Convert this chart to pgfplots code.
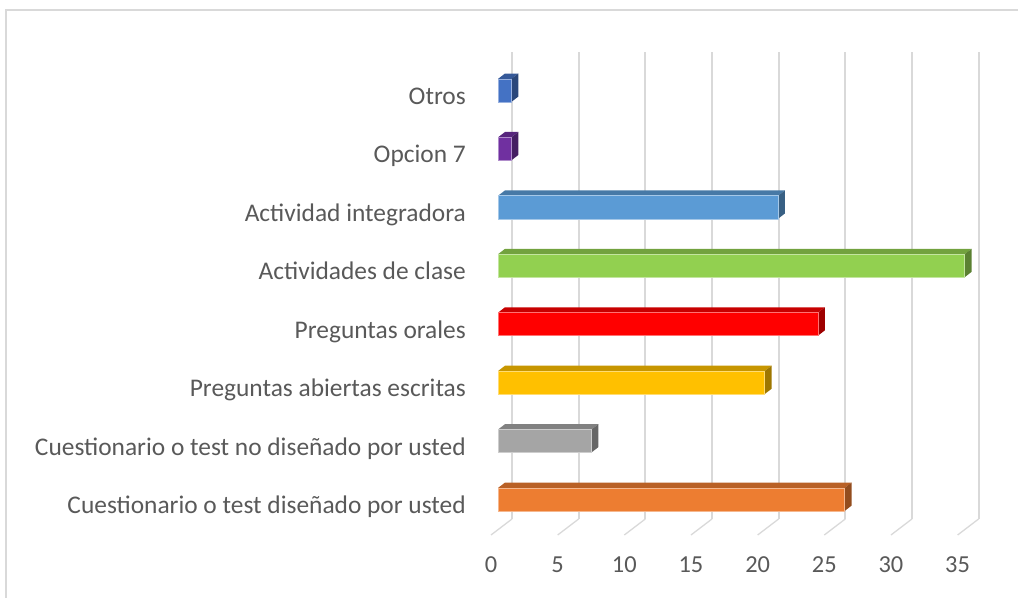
\documentclass[border=0pt]{standalone}
\usepackage{fontspec}
\setmainfont{Carlito}
\usepackage{pgfplots}
\pgfplotsset{compat=1.18}
\definecolor{txt}{HTML}{595959}
\definecolor{grd}{HTML}{D9D9D9}
\definecolor{cOr}{HTML}{ED7D31}
\definecolor{cGy}{HTML}{A5A5A5}
\definecolor{cGd}{HTML}{FFC000}
\definecolor{cRd}{HTML}{FF0000}
\definecolor{cGn}{HTML}{92D050}
\definecolor{cLb}{HTML}{5B9BD5}
\definecolor{cPu}{HTML}{7030A0}
\definecolor{cBl}{HTML}{4472C4}
% #1 category position, #2 value, #3 colour
\newcommand\tdbar[3]{%
\pgfmathsetmacro\ya{#1-0.197}%
\pgfmathsetmacro\yb{#1+0.197}%
\pgfmathsetmacro\yc{#1+0.289}%
\pgfmathsetmacro\yd{#1-0.105}%
\pgfmathsetmacro\xb{0.525+#2}%
\pgfmathsetmacro\xc{1.05+#2}%
\edef\tmp{%
\noexpand\addplot[fill=#3!78!black, draw=none] coordinates {(0.525,\yb) (\xb,\yb) (\xc,\yc) (1.05,\yc)} -- cycle;
\noexpand\addplot[fill=#3!62!black, draw=none] coordinates {(\xb,\ya) (\xc,\yd) (\xc,\yc) (\xb,\yb)} -- cycle;
\noexpand\addplot[fill=#3, draw=#3!55!white, line width=0.6bp] coordinates {(0.525,\ya) (\xb,\ya) (\xb,\yb) (0.525,\yb)} -- cycle;
}\tmp}
\begin{document}
\begin{tikzpicture}[x=1bp,y=1bp]
\useasboundingbox (0,0) rectangle (1018,598);
\draw[grd, line width=1.5bp] (6,0) -- (6,588) -- (1018,588);
\begin{axis}[
  at={(491bp,63bp)}, anchor=south west,
  scale only axis, width=487.6bp, height=485.3bp,
  xmin=0, xmax=36.575, ymin=-0.608, ymax=7.697,
  axis line style={draw=none}, major tick length=0pt,
  xtick={0,5,...,35}, ytick={0,...,7},
  yticklabels={Cuestionario o test diseñado por usted,
    Cuestionario o test no diseñado por usted,
    Preguntas abiertas escritas, Preguntas orales,
    Actividades de clase, Actividad integradora, Opcion 7, Otros},
  tick label style={text=txt},
  xticklabel style={font=\fontsize{24.5}{28}\selectfont, anchor=base, yshift=-38bp},
  yticklabel style={font=\fontsize{25.5}{30}\selectfont, anchor=base east, inner sep=0pt, xshift=-25bp, yshift=-14bp},
  /pgf/number format/assume math mode=true,
  clip=false,
]
% back-wall gridlines
\addplot[grd, line width=2bp] coordinates {(1.575,-0.334) (1.575,7.66)};
\addplot[grd, line width=2bp] coordinates {(6.575,-0.334) (6.575,7.66)};
\addplot[grd, line width=2bp] coordinates {(11.575,-0.334) (11.575,7.66)};
\addplot[grd, line width=2bp] coordinates {(16.575,-0.334) (16.575,7.66)};
\addplot[grd, line width=2bp] coordinates {(21.575,-0.334) (21.575,7.66)};
\addplot[grd, line width=2bp] coordinates {(26.575,-0.334) (26.575,7.66)};
\addplot[grd, line width=2bp] coordinates {(31.575,-0.334) (31.575,7.66)};
\addplot[grd, line width=2bp] coordinates {(36.575,-0.334) (36.575,7.66)};
% floor lines
\addplot[grd, line width=1.3bp] coordinates {(0,-0.608) (1.575,-0.334)};
\addplot[grd, line width=1.3bp] coordinates {(5,-0.608) (6.575,-0.334)};
\addplot[grd, line width=1.3bp] coordinates {(10,-0.608) (11.575,-0.334)};
\addplot[grd, line width=1.3bp] coordinates {(15,-0.608) (16.575,-0.334)};
\addplot[grd, line width=1.3bp] coordinates {(20,-0.608) (21.575,-0.334)};
\addplot[grd, line width=1.3bp] coordinates {(25,-0.608) (26.575,-0.334)};
\addplot[grd, line width=1.3bp] coordinates {(30,-0.608) (31.575,-0.334)};
\addplot[grd, line width=1.3bp] coordinates {(35,-0.608) (36.575,-0.334)};
% bars
\tdbar{0}{26}{cOr}
\tdbar{1}{7}{cGy}
\tdbar{2}{20}{cGd}
\tdbar{3}{24}{cRd}
\tdbar{4}{35}{cGn}
\tdbar{5}{21}{cLb}
\tdbar{6}{1}{cPu}
\tdbar{7}{1}{cBl}
\end{axis}
\end{tikzpicture}
\end{document}
